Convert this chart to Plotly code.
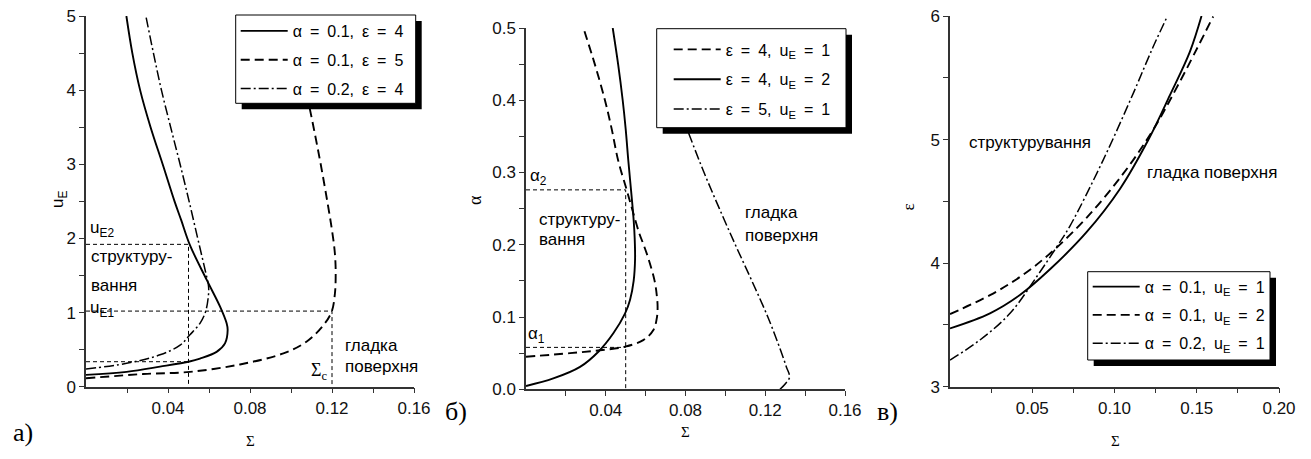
import plotly.graph_objects as go

# ---------------- data: panel a (u_E vs Sigma) ----------------
u_a1 = [0.16, 0.20, 0.27, 0.34, 0.38, 0.47, 0.585, 0.765, 0.855, 1.08, 1.44, 1.91, 2.25, 2.5, 3.0, 3.5, 4.0, 4.5, 5.0]
sig_a1 = [0.0, 0.0198, 0.0361, 0.0505, 0.0556, 0.0637, 0.0678, 0.0691, 0.0686, 0.0654, 0.0589, 0.0507, 0.0464, 0.0432, 0.0374, 0.0315, 0.0264, 0.0226, 0.0197]

u_a2 = [0.113, 0.171, 0.20, 0.30, 0.45, 0.61, 0.83, 1.01, 1.25, 1.53, 1.8, 2.11, 2.5, 3.0, 3.5, 4.0, 4.5, 5.0]
sig_a2 = [0.0, 0.028, 0.0507, 0.0751, 0.0963, 0.1077, 0.1158, 0.1198, 0.1214, 0.1218, 0.1214, 0.1200, 0.1177, 0.1145, 0.1110, 0.1073, 0.1035, 0.0997]

u_a3 = [0.24, 0.315, 0.43, 0.56, 0.70, 0.855, 1.0, 1.2, 1.35, 1.55, 1.8, 2.0, 2.5, 3.0, 3.5, 4.0, 4.5, 5.0]
sig_a3 = [0.0, 0.0198, 0.0361, 0.0459, 0.0507, 0.0556, 0.0582, 0.0596, 0.0598, 0.0583, 0.0562, 0.0545, 0.0503, 0.0459, 0.0413, 0.0368, 0.0329, 0.0292]

names_a = ["α = 0.1, ε = 4", "α = 0.1, ε = 5", "α = 0.2, ε = 4"]

# guide levels, panel a
SIG_STAR = 0.05
U_E2 = 1.92
U_LOW = 0.337
U_E1 = 1.02
SIG_C = 0.12

# ---------------- data: panel b (alpha vs Sigma) ----------------
a_b1 = [0.045, 0.05, 0.054, 0.059, 0.068, 0.082, 0.1, 0.115, 0.13, 0.15, 0.18, 0.2, 0.216, 0.245, 0.276, 0.317, 0.36, 0.4, 0.45, 0.5]
sig_b1 = [0.0, 0.0221, 0.0371, 0.0497, 0.0588, 0.0639, 0.0657, 0.066, 0.0656, 0.0645, 0.0615, 0.059, 0.0568, 0.0537, 0.0505, 0.0462, 0.0430, 0.0396, 0.0345, 0.0288]

a_b2 = [0.0046, 0.015, 0.031, 0.052, 0.0775, 0.105, 0.124, 0.15, 0.18, 0.21, 0.234, 0.26, 0.29, 0.317, 0.36, 0.4, 0.45, 0.5]
sig_b2 = [0.0, 0.0137, 0.0271, 0.0363, 0.0438, 0.0497, 0.0522, 0.0540, 0.0547, 0.0545, 0.0540, 0.0532, 0.0522, 0.0513, 0.0500, 0.0485, 0.0462, 0.0435]

a_b3 = [0.0, 0.008, 0.017, 0.031, 0.054, 0.1, 0.15, 0.2, 0.25, 0.3, 0.357, 0.42]
sig_b3 = [0.1274, 0.1302, 0.1322, 0.1306, 0.1277, 0.1213, 0.1133, 0.1050, 0.0970, 0.0893, 0.0812, 0.0725]

names_b = ["ε = 4, u<sub>E</sub> = 1", "ε = 4, u<sub>E</sub> = 2", "ε = 5, u<sub>E</sub> = 1"]

ALPHA_2 = 0.276
ALPHA_1 = 0.058

# ---------------- data: panel c (epsilon vs Sigma) ----------------
sig_c1 = [0.0, 0.0243, 0.0425, 0.0608, 0.083, 0.1033, 0.1205, 0.1337, 0.1458, 0.1529]
eps_c1 = [3.472, 3.594, 3.742, 3.95, 4.25, 4.60, 4.996, 5.36, 5.71, 6.0]

sig_c2 = [0.0, 0.0243, 0.0425, 0.0608, 0.083, 0.1053, 0.1235, 0.1397, 0.16]
eps_c2 = [3.588, 3.741, 3.888, 4.078, 4.367, 4.724, 5.079, 5.468, 5.996]

sig_c3 = [0.0, 0.0182, 0.0365, 0.0527, 0.0648, 0.0729, 0.0931, 0.1114, 0.1235, 0.1322]
eps_c3 = [3.216, 3.378, 3.594, 3.89, 4.13, 4.30, 4.834, 5.374, 5.751, 6.0]

names_c = ["α = 0.1, u<sub>E</sub> = 1", "α = 0.1, u<sub>E</sub> = 2", "α = 0.2, u<sub>E</sub> = 1"]

# ---------------- styling ----------------
W, H = 1311, 459
SANS = "Liberation Sans, Arial, sans-serif"
SERIF = "Liberation Serif, Times New Roman, serif"
SOLID = "solid"
DASH = "9px,5px"
DASHDOT = "10px,3px,2px,3px"
GUIDE = "4px,3px"
EN = "\u2002"

fig = go.Figure()


def wide(s):
    return s.replace(" ", EN)


def curve(x, y, name, dash, xa, ya, leg, width=1.9):
    fig.add_trace(go.Scatter(
        x=x, y=y, mode="lines", name=wide(name),
        line=dict(color="black", width=width, dash=dash, shape="spline", smoothing=1.0),
        xaxis=xa, yaxis=ya, legend=leg, legendgroup=leg + name, showlegend=True,
        hoverinfo="skip"))


def guide(x, y, xa, ya):
    fig.add_trace(go.Scatter(
        x=x, y=y, mode="lines", showlegend=False, hoverinfo="skip",
        line=dict(color="black", width=1, dash=GUIDE), xaxis=xa, yaxis=ya))


# panel a guides
guide([0, SIG_STAR, SIG_STAR], [U_E2, U_E2, 0], "x", "y")
guide([0, SIG_STAR], [U_LOW, U_LOW], "x", "y")
guide([0, SIG_C, SIG_C], [U_E1, U_E1, 0], "x", "y")
# panel a curves
curve(sig_a1, u_a1, names_a[0], SOLID, "x", "y", "legend")
curve(sig_a2, u_a2, names_a[1], DASH, "x", "y", "legend")
curve(sig_a3, u_a3, names_a[2], DASHDOT, "x", "y", "legend", width=1.5)

# panel b guides
guide([0, SIG_STAR, SIG_STAR], [ALPHA_2, ALPHA_2, 0], "x2", "y2")
guide([0, SIG_STAR], [ALPHA_1, ALPHA_1], "x2", "y2")
# panel b curves
curve(sig_b1, a_b1, names_b[0], DASH, "x2", "y2", "legend2")
curve(sig_b2, a_b2, names_b[1], SOLID, "x2", "y2", "legend2")
curve(sig_b3, a_b3, names_b[2], DASHDOT, "x2", "y2", "legend2", width=1.5)

# panel c curves
curve(sig_c1, eps_c1, names_c[0], SOLID, "x3", "y3", "legend3")
curve(sig_c2, eps_c2, names_c[1], DASH, "x3", "y3", "legend3")
curve(sig_c3, eps_c3, names_c[2], DASHDOT, "x3", "y3", "legend3", width=1.5)


def px_x(p):
    return p / W


def px_y(p):
    return 1 - p / H


axis_common = dict(showgrid=False, zeroline=False, showline=True, linecolor="#333", linewidth=1.5,
                   ticks="outside", ticklen=5, tickwidth=1, tickcolor="#333", automargin=False,
                   tickfont=dict(family=SANS, size=17, color="#111"), fixedrange=True)

xt_ab = [0.02 * i for i in range(1, 9)]
xl_ab = ["" if i % 2 else "%.2f" % (0.02 * i) for i in range(1, 9)]
yt_a = [0.5 * i for i in range(0, 11)]
yl_a = ["%d" % (i // 2) if i % 2 == 0 else "" for i in range(0, 11)]
yt_b = [0.05 * i for i in range(0, 11)]
yl_b = ["%.1f" % (0.05 * i) if i % 2 == 0 else "" for i in range(0, 11)]
xt_c = [0.025 * i for i in range(1, 9)]
xl_c = ["" if i % 2 else "%.2f" % (0.025 * i) for i in range(1, 9)]
yt_c = [3 + 0.5 * i for i in range(0, 7)]
yl_c = ["%d" % (3 + i // 2) if i % 2 == 0 else "" for i in range(0, 7)]

fig.update_layout(
    width=W, height=H, margin=dict(l=0, r=0, t=0, b=0, autoexpand=False),
    paper_bgcolor="white", plot_bgcolor="white",
    font=dict(family=SANS, size=16, color="black"),
    xaxis=dict(domain=[px_x(86), px_x(414)], range=[0, 0.16], anchor="y",
               tickvals=xt_ab, ticktext=xl_ab, **axis_common),
    yaxis=dict(domain=[px_y(386.7), px_y(16)], range=[0, 5], anchor="x",
               tickvals=yt_a, ticktext=yl_a, **axis_common),
    xaxis2=dict(domain=[px_x(526), px_x(845)], range=[0, 0.16], anchor="y2",
                tickvals=xt_ab, ticktext=xl_ab, **axis_common),
    yaxis2=dict(domain=[px_y(389.3), px_y(28)], range=[0, 0.5], anchor="x2",
                tickvals=yt_b, ticktext=yl_b, **axis_common),
    xaxis3=dict(domain=[px_x(950), px_x(1279)], range=[0, 0.2], anchor="y3",
                tickvals=xt_c, ticktext=xl_c, **axis_common),
    yaxis3=dict(domain=[px_y(386.7), px_y(16)], range=[3, 6], anchor="x3",
                tickvals=yt_c, ticktext=yl_c, **axis_common),
)

leg_common = dict(bgcolor="rgba(0,0,0,0)", borderwidth=0,
                  font=dict(family=SANS, size=16, color="black"),
                  xanchor="left", yanchor="top", itemwidth=47,
                  traceorder="grouped")
fig.update_layout(
    legend=dict(x=px_x(235.7), y=px_y(14), tracegroupgap=5, **leg_common),
    legend2=dict(x=px_x(656.7), y=px_y(32.5), tracegroupgap=6, indentation=12, **leg_common),
    legend3=dict(x=px_x(1087.7), y=px_y(269.7), tracegroupgap=4.5, **leg_common),
)

# legend frames with drop shadows
for (x0, y0, x1, y1) in [(235.7, 15, 415.7, 103.3), (656.7, 28.7, 846, 127.7), (1087.7, 271.7, 1270, 360)]:
    fig.add_shape(type="rect", xref="paper", yref="paper",
                  x0=px_x(x0 + 6), x1=px_x(x1 + 6), y0=px_y(y1 + 6), y1=px_y(y0 + 6),
                  fillcolor="black", line=dict(width=0), layer="above")
    fig.add_shape(type="rect", xref="paper", yref="paper",
                  x0=px_x(x0), x1=px_x(x1), y0=px_y(y1), y1=px_y(y0),
                  fillcolor="white", line=dict(width=1, color="black"), layer="above")


def note(text, x, y, xref, yref, xanchor="left", font=SANS, size=17):
    fig.add_annotation(text=text, x=x, y=y, xref=xref, yref=yref, showarrow=False,
                       xanchor=xanchor, yanchor="middle", font=dict(family=font, size=size, color="black"))


# in-plot labels, panel a
note("u<sub>E2</sub>", 0.001, 2.127, "x", "y")
note("структуру-", 0.0015, 1.75, "x", "y")
note("вання", 0.0015, 1.37, "x", "y")
note("u<sub>E1</sub>", 0.001, 1.045, "x", "y")
note("гладка", 0.1254, 0.5625, "x", "y")
note("поверхня", 0.1254, 0.266, "x", "y")
note("Σ<sub>c</sub>", 0.1185, 0.2, "x", "y", xanchor="right", font=SERIF, size=18)
# panel b
note("α<sub>2</sub>", 0.001, 0.2938, "x2", "y2")
note("структуру-", 0.0054, 0.2343, "x2", "y2")
note("вання", 0.0054, 0.208, "x2", "y2")
note("α<sub>1</sub>", 0.0, 0.0751, "x2", "y2")
note("гладка", 0.1088, 0.244, "x2", "y2")
note("поверхня", 0.1088, 0.2135, "x2", "y2")
# panel c
note("структурування", 0.0103, 4.98, "x3", "y3")
note("гладка поверхня", 0.1185, 4.737, "x3", "y3")

# axis titles
note("Σ", px_x(250), px_y(441), "paper", "paper", xanchor="center", font=SERIF, size=15)
note("Σ", px_x(685), px_y(432), "paper", "paper", xanchor="center", font=SERIF, size=15)
note("Σ", px_x(1115), px_y(441), "paper", "paper", xanchor="center", font=SERIF, size=15)
fig.add_annotation(text="u<sub>E</sub>", x=px_x(46), y=px_y(200), xref="paper", yref="paper",
                   showarrow=False, textangle=-90, font=dict(family=SANS, size=17, color="black"))
fig.add_annotation(text="α", x=px_x(475), y=px_y(200), xref="paper", yref="paper",
                   showarrow=False, textangle=-90, font=dict(family=SERIF, size=18, color="black"))
fig.add_annotation(text="ε", x=px_x(920), y=px_y(207), xref="paper", yref="paper",
                   showarrow=False, textangle=-90, font=dict(family=SERIF, size=17, color="black"))

# panel letters
note("а)", px_x(23), px_y(432), "paper", "paper", xanchor="center", font=SERIF, size=26)
note("б)", px_x(456), px_y(411), "paper", "paper", xanchor="center", font=SERIF, size=26)
note("в)", px_x(887), px_y(411), "paper", "paper", xanchor="center", font=SERIF, size=26)

fig.write_html("out.html")
